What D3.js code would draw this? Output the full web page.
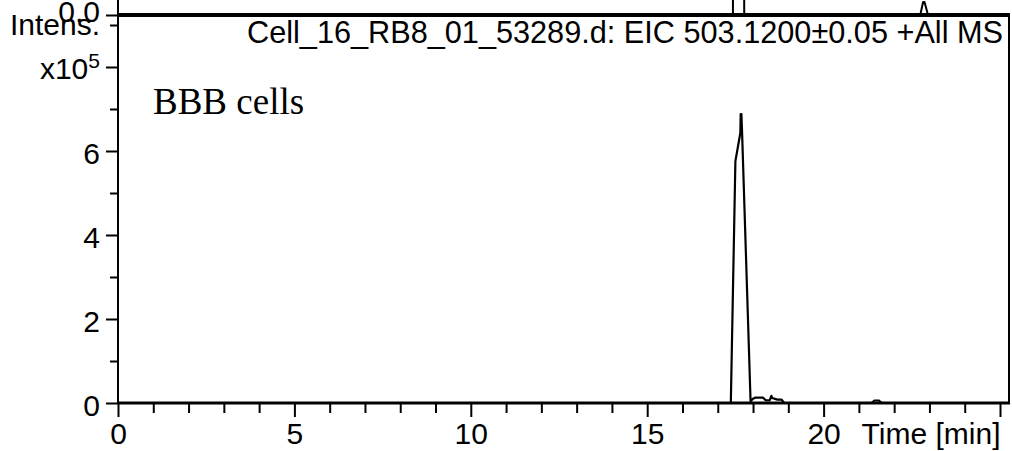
<!DOCTYPE html>
<html><head><meta charset="utf-8">
<script src="https://cdn.jsdelivr.net/npm/d3@7"></script>
<style>
html,body{margin:0;padding:0;background:#fff;}
svg{display:block;}
text{font-family:"Liberation Sans",Arial,sans-serif;fill:#000;}
</style></head>
<body>
<script>
// ---- data ----
const title = "Cell_16_RB8_01_53289.d: EIC 503.1200±0.05 +All MS";
const sampleLabel = "BBB cells";
const xTickValues = [0, 5, 10, 15, 20, 25];
const xTickLabels = ["0", "5", "10", "15", "20", "Time [min]"];
const xMinorTicks = [1,2,3,4,6,7,8,9,11,12,13,14,16,17,18,19,21,22,23,24];
const yTickValues = [0, 2, 4, 6];
const yMinorTicks = [1, 3, 5, 7, 9];
// lower panel EIC trace (intensity x10^5)
const lowerTime = [0, 17.37, 17.50, 17.64, 17.65, 17.67, 17.69, 17.93, 18.00, 18.07, 18.28, 18.35, 18.47, 18.52, 18.54, 18.69, 18.81, 18.88, 21.36, 21.44, 21.56, 21.65, 25];
const lowerIntensity = [0, 0, 5.76, 6.43, 6.88, 6.88, 6.43, 0.04, 0.10, 0.13, 0.13, 0.07, 0.06, 0.17, 0.12, 0.08, 0.08, 0, 0, 0.06, 0.06, 0, 0];
// upper panel trace (cut off at top of picture)
const upperTime = [0, 17.43, 17.45, 17.73, 17.75, 22.74, 22.82, 22.86, 22.96, 25];
const upperIntensity = [0, 0, 30, 30, 0, 0, 1.3, 1.3, 0, 0];

// ---- layout ----
const W = 1012, H = 451;
const svg = d3.select("body").append("svg").attr("width", W).attr("height", H);

const x = d3.scaleLinear().domain([0, 25]).range([118, 1000]);
const y = d3.scaleLinear().domain([0, 9]).range([403, 25]);
const yTop = d3.scaleLinear().domain([0, 1]).range([15, 5]);
const frameRight = 1009;

const font = 30;

// y axis main line (spans both panels)
svg.append("line").attr("x1", 118).attr("x2", 118).attr("y1", 0).attr("y2", 403)
  .attr("stroke", "#000").attr("stroke-width", 2);

// right frame
svg.append("line").attr("x1", frameRight).attr("x2", frameRight).attr("y1", 15).attr("y2", 404)
  .attr("stroke", "#000").attr("stroke-width", 2);

// upper panel baseline axis
svg.append("line").attr("x1", 118).attr("x2", frameRight + 1).attr("y1", yTop(0)).attr("y2", yTop(0))
  .attr("stroke", "#000").attr("stroke-width", 4);

// y axis major ticks
const yAxis = d3.axisLeft(y).tickValues(yTickValues).tickSize(12).tickPadding(6).tickFormat(d3.format("d"));
const gy = svg.append("g").attr("transform", "translate(118,0)").call(yAxis);
gy.select(".domain").remove();
gy.selectAll(".tick line").attr("stroke-width", 2);
gy.selectAll(".tick text").attr("font-size", font).attr("font-family", "Liberation Sans, Arial").attr("dy", "0.4em");

// y minor ticks + tick for x10^5 (8)
const gyMinor = svg.append("g").attr("transform", "translate(118,0)").call(
  d3.axisLeft(y).tickValues(yMinorTicks).tickSize(8).tickFormat(""));
gyMinor.select(".domain").remove();
gyMinor.selectAll(".tick line").attr("stroke-width", 2);
const gy8 = svg.append("g").attr("transform", "translate(118,0)").call(
  d3.axisLeft(y).tickValues([8]).tickSize(12).tickFormat(""));
gy8.select(".domain").remove();
gy8.selectAll(".tick line").attr("stroke-width", 2);

// upper panel 0.0 tick
const gyTop = svg.append("g").attr("transform", "translate(118,0)").call(
  d3.axisLeft(yTop).tickValues([0]).tickSize(12).tickPadding(6).tickFormat(d3.format(".1f")));
gyTop.select(".domain").remove();
gyTop.selectAll(".tick line").attr("stroke-width", 2);
gyTop.selectAll(".tick text").attr("font-size", font).attr("font-family", "Liberation Sans, Arial").attr("dy", "0.2em");

// x axis
svg.append("line").attr("x1", 118).attr("x2", frameRight + 1).attr("y1", 403).attr("y2", 403)
  .attr("stroke", "#000").attr("stroke-width", 3);
const xAxis = d3.axisBottom(x).tickValues(xTickValues).tickSize(14).tickPadding(0)
  .tickFormat((d, i) => xTickLabels[i]);
const gx = svg.append("g").attr("transform", "translate(0,403)").call(xAxis);
gx.select(".domain").remove();
gx.selectAll(".tick line").attr("stroke-width", 2);
gx.selectAll(".tick text").attr("font-size", font).attr("font-family", "Liberation Sans, Arial")
  .attr("y", 41).attr("dy", 0)
  .attr("text-anchor", (d, i) => i === xTickValues.length - 1 ? "end" : "middle");
const gxMinor = svg.append("g").attr("transform", "translate(0,403)").call(
  d3.axisBottom(x).tickValues(xMinorTicks).tickSize(10).tickFormat(""));
gxMinor.select(".domain").remove();
gxMinor.selectAll(".tick line").attr("stroke-width", 2);

// traces
const lowerData = lowerTime.map((t, i) => [t, lowerIntensity[i]]);
const upperData = upperTime.map((t, i) => [t, upperIntensity[i]]);
svg.append("path").datum(upperData)
  .attr("d", d3.line().x(d => x(d[0])).y(d => yTop(d[1])))
  .attr("fill", "none").attr("stroke", "#000").attr("stroke-width", 2).attr("stroke-linejoin", "round");
svg.append("path").datum(lowerData)
  .attr("d", d3.line().x(d => x(d[0])).y(d => y(d[1])))
  .attr("fill", "none").attr("stroke", "#000").attr("stroke-width", 2.2).attr("stroke-linejoin", "round");

// labels
svg.append("text").attr("x", 100).attr("y", 35).attr("text-anchor", "end")
  .attr("font-size", font).text("Intens.");
const xl = svg.append("text").attr("x", 100).attr("y", 79).attr("text-anchor", "end").attr("font-size", font);
xl.append("tspan").text("x10");
xl.append("tspan").attr("font-size", 21).attr("dy", -11).text("5");

svg.append("text").attr("x", 247).attr("y", 43)
  .attr("font-size", 30.5).attr("textLength", 756).attr("lengthAdjust", "spacingAndGlyphs").text(title);

svg.append("text").attr("x", 153).attr("y", 114)
  .style("font-family", "'Liberation Serif','Times New Roman',serif")
  .attr("font-size", 37).text(sampleLabel);
</script>
</body></html>
